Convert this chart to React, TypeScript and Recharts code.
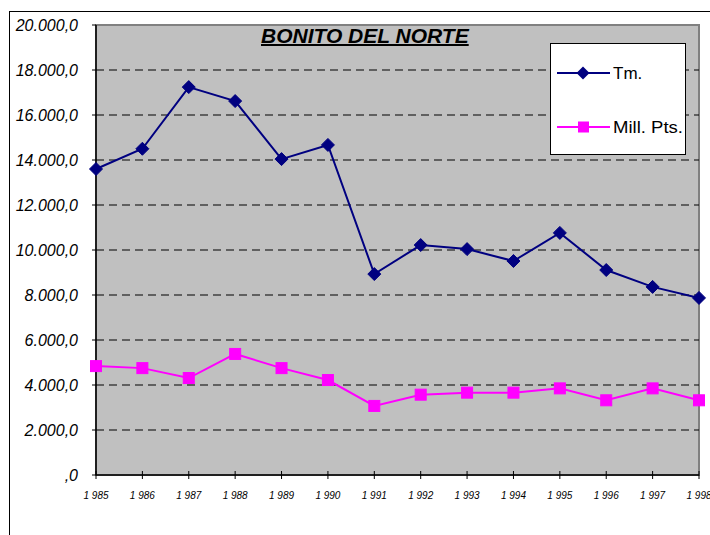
import React from 'react';
import { LineChart, Line, XAxis, YAxis, ReferenceArea, ReferenceLine } from 'recharts';

const years = [1985, 1986, 1987, 1988, 1989, 1990, 1991, 1992, 1993, 1994, 1995, 1996, 1997, 1998];
const yearLabels = ['1 985', '1 986', '1 987', '1 988', '1 989', '1 990', '1 991', '1 992', '1 993', '1 994', '1 995', '1 996', '1 997', '1 998'];
const tmValues = [13600, 14500, 17240, 16620, 14040, 14670, 8930, 10220, 10040, 9510, 10760, 9110, 8360, 7870];
const millPtsValues = [4840, 4750, 4310, 5380, 4750, 4220, 3070, 3570, 3660, 3660, 3850, 3320, 3850, 3320];
const yTicks = [0, 2000, 4000, 6000, 8000, 10000, 12000, 14000, 16000, 18000, 20000];
const yTickLabels = [',0', '2.000,0', '4.000,0', '6.000,0', '8.000,0', '10.000,0', '12.000,0', '14.000,0', '16.000,0', '18.000,0', '20.000,0'];
const gridValues = [2000, 4000, 6000, 8000, 10000, 12000, 14000, 16000, 18000];

const data = years.map((y, i) => ({ year: y, tm: tmValues[i], mill: millPtsValues[i] }));

const FONT = '"Liberation Sans", Arial, sans-serif';

const Diamond = (props: any) => {
  const { cx, cy } = props;
  if (cx == null || cy == null) return null;
  const r = 6.5;
  return <path d={`M${cx},${cy - r}L${cx + r},${cy}L${cx},${cy + r}L${cx - r},${cy}Z`} fill="#000080" stroke="#000080" />;
};

const Square = (props: any) => {
  const { cx, cy } = props;
  if (cx == null || cy == null) return null;
  const s = 11;
  return <rect x={cx - s / 2} y={cy - s / 2} width={s} height={s} fill="#ff00ff" stroke="#ff00ff" />;
};

const YTick = (props: any) => {
  const { x, y, payload } = props;
  const idx = yTicks.indexOf(payload.value);
  return (
    <g>
      <line x1={x - 4} x2={x} y1={y} y2={y} stroke="#000" />
      <text x={x - 18} y={y + 6} textAnchor="end" fontSize={16} fontStyle="italic" fontFamily={FONT} fill="#000">
        {yTickLabels[idx]}
      </text>
    </g>
  );
};

const XTick = (props: any) => {
  const { x, y, payload } = props;
  const idx = years.indexOf(payload.value);
  return (
    <g>
      <line x1={x} x2={x} y1={y - 4} y2={y + 4} stroke="#000" />
      <text x={x} y={y + 24} textAnchor="middle" fontSize={10} fontStyle="italic" fontFamily={FONT} fill="#000">
        {yearLabels[idx]}
      </text>
    </g>
  );
};

const LegendBox = () => (
  <div style={{ position: 'absolute', left: 550, top: 43, width: 134, height: 110, background: '#fff', border: '1px solid #000', fontFamily: FONT }}>
    <svg width={134} height={110} style={{ position: 'absolute', left: 0, top: 0 }}>
      <line x1={6} x2={59} y1={29} y2={29} stroke="#000080" strokeWidth={2} />
      <path d="M32,22.5L38.5,29L32,35.5L25.5,29Z" fill="#000080" />
      <text x={62} y={35} fontSize={17} fontFamily={FONT} fill="#000">Tm.</text>
      <line x1={6} x2={59} y1={83} y2={83} stroke="#ff00ff" strokeWidth={2} />
      <rect x={27} y={77.5} width={11} height={11} fill="#ff00ff" />
      <text x={62} y={89} fontSize={17} fontFamily={FONT} fill="#000" textLength={70} lengthAdjust="spacingAndGlyphs">Mill. Pts.</text>
    </svg>
  </div>
);

export default function App() {
  return (
    <div style={{ position: 'absolute', left: 0, top: 0, width: 710, height: 535, background: '#fff', overflow: 'hidden' }}>
      <div style={{ position: 'absolute', left: 9, top: 11, width: 710, height: 530, borderLeft: '1px solid #000', borderTop: '1px solid #000' }} />
      <div style={{ position: 'absolute', left: 0, top: 0 }}>
        <LineChart width={710} height={535} data={data} margin={{ top: 25, right: 11, bottom: 0, left: 0 }}>
          <ReferenceArea x1={1985} x2={1998} y1={0} y2={20000} fill="#c0c0c0" fillOpacity={1} stroke="#808080" strokeWidth={2} />
          {gridValues.map((v) => (
            <ReferenceLine key={v} y={v} stroke="#000" strokeDasharray="8 5" />
          ))}
          <XAxis
            dataKey="year"
            type="number"
            domain={[1985, 1998]}
            ticks={years}
            interval={0}
            height={60}
            tickSize={0}
            tickMargin={0}
            tickLine={false}
            axisLine={{ stroke: '#000', strokeWidth: 1.5 }}
            tick={<XTick />}
          />
          <YAxis
            type="number"
            domain={[0, 20000]}
            ticks={yTicks}
            interval={0}
            width={96}
            tickSize={0}
            tickMargin={0}
            tickLine={false}
            axisLine={{ stroke: '#000', strokeWidth: 1.5 }}
            tick={<YTick />}
          />
          <Line dataKey="tm" name="Tm." stroke="#000080" strokeWidth={2} dot={<Diamond />} isAnimationActive={false} />
          <Line dataKey="mill" name="Mill. Pts." stroke="#ff00ff" strokeWidth={2} dot={<Square />} isAnimationActive={false} />
        </LineChart>
      </div>
      <LegendBox />
      <div style={{ position: 'absolute', left: 261, top: 24, width: 200, textAlign: 'center', whiteSpace: 'nowrap', fontFamily: FONT, fontSize: 21, fontWeight: 'bold', fontStyle: 'italic' }}>
        <span style={{ textDecoration: 'underline', textDecorationThickness: 2 }}>BONITO DEL NORTE</span>
      </div>
    </div>
  );
}
